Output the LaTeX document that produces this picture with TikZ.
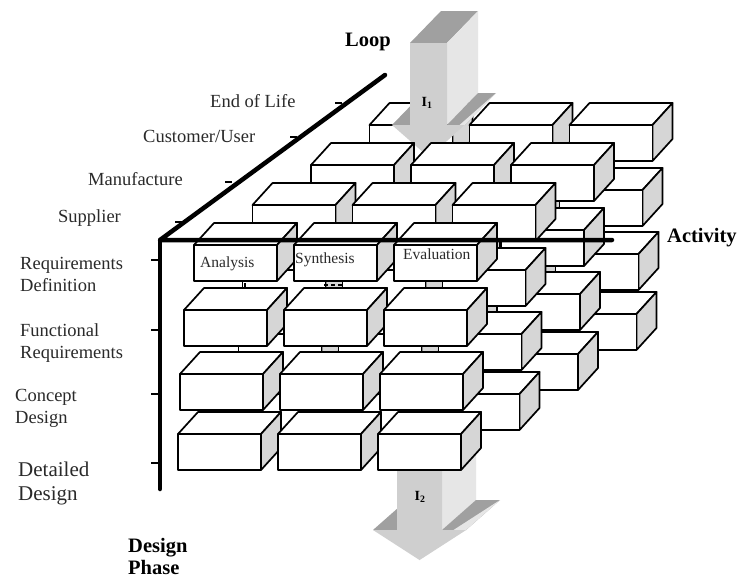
\documentclass[tikz,border=0pt]{standalone}
\usepackage{fontspec}
\setmainfont{Liberation Serif}
\definecolor{sidegray}{HTML}{D6D6D6}
\definecolor{arrtop}{HTML}{A0A0A0}
\definecolor{arrfront}{HTML}{CFCFCF}
\definecolor{arrside}{HTML}{E6E6E6}
\definecolor{txt}{HTML}{2A2A2A}
\newcommand\mybrick[2]{%
  \pgfmathsetmacro\bxx{#1}\pgfmathsetmacro\byy{#2}%
  \filldraw[brickline,fill=white] (\bxx,\byy) -- ++(20,-22) -- ++(83,0) -- ++(-20,22) -- cycle;
  \filldraw[brickline,fill=sidegray] (\bxx+83,\byy) -- ++(20,-22) -- ++(0,36) -- ++(-20,22) -- cycle;
  \filldraw[brickline,fill=white] (\bxx,\byy) rectangle ++(83,36);
}
\newcommand\drawlayer[1]{%
  \foreach \bx/\by in {178/434,180/374,184/310,194/245}{%
    \foreach \cc in {0,1,2}{%
      \mybrick{\bx+100*\cc+58.5*#1}{\by-40*#1}%
    }%
  }%
}
\begin{document}
\begin{tikzpicture}[x=1pt,y=-1pt,
  brickline/.style={draw=black,line width=1.7pt,line join=round},
  axisline/.style={line width=4.5pt,line cap=round,line join=round},
  tickline/.style={line width=1.3pt},
  lbl/.style={text=txt,inner sep=0pt,anchor=base west,font=\fontsize{18.5}{22}\selectfont},
  biglbl/.style={text=txt,inner sep=0pt,anchor=base west,font=\fontsize{21}{25}\selectfont},
  boldlbl/.style={text=black,inner sep=0pt,anchor=base west,font=\fontsize{20.5}{24}\selectfont\bfseries},
  boxlbl/.style={text=txt,inner sep=0pt,anchor=base west,font=\fontsize{15.5}{18}\selectfont},
  arrlbl/.style={text=black,inner sep=0pt,font=\fontsize{14}{16}\selectfont\bfseries}]
\useasboundingbox (0,0) rectangle (740,579);
\fill[white] (0,0) rectangle (740,579);

% farthest layer: End of Life
\drawlayer{3}

% loop arrow I1
\fill[arrtop] (410,43) -- (447,43) -- (478,11) -- (441,11) -- cycle;
\fill[arrside] (447,43) -- (447,125) -- (478,93) -- (478,11) -- cycle;
\fill[arrtop] (392,125) -- (410,125) -- (441,93) -- (423,93) -- cycle;
\fill[arrtop] (447,125) -- (465,125) -- (496,93) -- (478,93) -- cycle;
\fill[arrside] (465,125) -- (428.5,157) -- (459.5,125) -- (496,93) -- cycle;
\fill[arrfront] (410,43) -- (447,43) -- (447,125) -- (465,125) -- (428.5,157) -- (392,125) -- (410,125) -- cycle;
\node[arrlbl] (i1) at (427,103) {I\textsubscript{1}};

\drawlayer{2}
\drawlayer{1}

% loop arrow I2
\fill[arrtop] (397,460) -- (442,460) -- (476,430) -- (431,430) -- cycle;
\fill[arrside] (442,460) -- (442,530) -- (476,500) -- (476,430) -- cycle;
\fill[arrtop] (373,530) -- (397,530) -- (431,500) -- (407,500) -- cycle;
\fill[arrtop] (442,530) -- (466,530) -- (500,500) -- (476,500) -- cycle;
\fill[arrside] (466,530) -- (419.5,560) -- (453.5,530) -- (500,500) -- cycle;
\fill[arrfront] (397,460) -- (442,460) -- (442,530) -- (466,530) -- (419.5,560) -- (373,530) -- (397,530) -- cycle;
\node[arrlbl] (i2) at (420,497) {I\textsubscript{2}};

% nearest layer: Supplier
\drawlayer{0}
\node[boxlbl] (analysis) at (200,267) {Analysis};
\node[boxlbl] (synthesis) at (295,263) {Synthesis};
\node[boxlbl] (evaluation) at (403,259) {Evaluation};

% axes
\coordinate (o) at (160,240);
\coordinate (loopend) at (385,75);
\coordinate (actend) at (612,240);
\coordinate (phaseend) at (160,489);
\draw[axisline] (loopend) -- (o) -- (actend);
\draw[axisline] (o) -- (phaseend);

% ticks
\foreach \tx/\ty in {342/103,297/137,232/182,182/222}{\draw[tickline] (\tx-7,\ty) -- (\tx,\ty);}
\foreach \ty in {260,330,394,463}{\draw[tickline] (151,\ty) -- (160,\ty);}
\draw[tickline] (500,240) -- (500,248);
\draw[tickline] (245,283) -- (245,288);
\draw[tickline,dash pattern=on 4pt off 3pt] (324,285) -- (344,285);

% labels
\node[boldlbl] (loop) at (345,46) {Loop};
\node[boldlbl] (activity) at (667,242) {Activity};
\node[boldlbl] (design1) at (128,552) {Design};
\node[boldlbl] (design2) at (128,574) {Phase};

\node[lbl] (eol) at (210,107) {End of Life};
\node[lbl] (cust) at (143,142) {Customer/User};
\node[lbl] (manu) at (88,185) {Manufacture};
\node[lbl] (supp) at (58,222) {Supplier};

\node[lbl] (rd1) at (20,269) {Requirements};
\node[lbl] (rd2) at (20,291) {Definition};
\node[lbl] (fr1) at (20,336) {Functional};
\node[lbl] (fr2) at (20,358) {Requirements};
\node[lbl] (cd1) at (15,401) {Concept};
\node[lbl] (cd2) at (15,423) {Design};
\node[biglbl] (dd1) at (18,476) {Detailed};
\node[biglbl] (dd2) at (18,500) {Design};
\end{tikzpicture}
\end{document}
